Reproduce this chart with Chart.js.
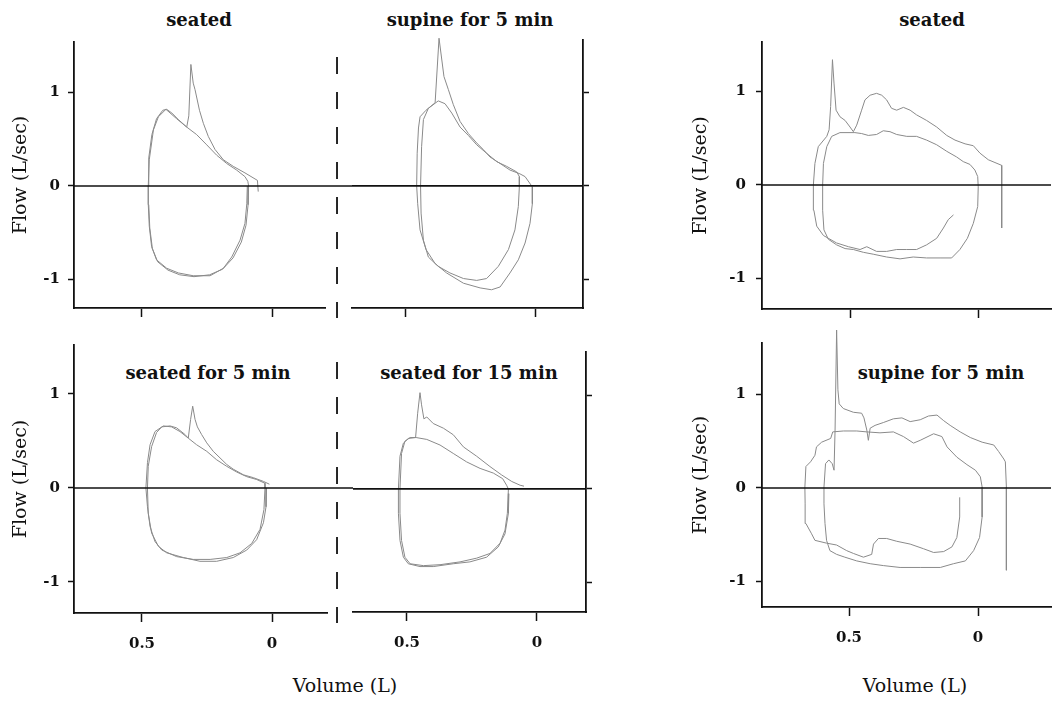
<!DOCTYPE html>
<html>
<head>
<meta charset="utf-8">
<script src="https://cdn.jsdelivr.net/npm/chart.js@4.4.1/dist/chart.umd.min.js"></script>
<style>
  body { margin: 0; width: 1052px; height: 701px; position: relative; overflow: hidden; background: #fff; font-family: "DejaVu Serif", serif; color: #111; }
  canvas { position: absolute; }
  .lbl { position: absolute; white-space: nowrap; line-height: 1; transform: translateX(-50%); }
  .ttl { font-weight: bold; font-size: 18px; }
  .vol { font-size: 19px; }
</style>
</head>
<body>
<div class="lbl ttl" style="left:199px; top:11px;">seated</div>
<div class="lbl ttl" style="left:470px; top:11px;">supine for 5 min</div>
<div class="lbl ttl" style="left:208px; top:364px;">seated for 5 min</div>
<div class="lbl ttl" style="left:469px; top:364px;">seated for 15 min</div>
<div class="lbl ttl" style="left:932px; top:11px;">seated</div>
<div class="lbl ttl" style="left:941px; top:364px;">supine for 5 min</div>
<div class="lbl vol" style="left:345px; top:676px;">Volume (L)</div>
<div class="lbl vol" style="left:915px; top:676px;">Volume (L)</div>
<script>
// ---------- axis ticks ----------
const xTicks = [0.5, 0];
const xTickLabels = ['0.5', '0'];
const yTicks = [-1, 0, 1];
const yTickLabels = ['-1', '0', '1'];

// ---------- loops, [volume L, flow L/s] ----------
// left block, top: seated
const seatedLoop1 = [[0.095,0.00],[0.097,-0.19],[0.104,-0.40],[0.123,-0.58],[0.155,-0.76],[0.187,-0.88],[0.238,-0.96],[0.303,-0.96],[0.360,-0.93],[0.405,-0.88],[0.444,-0.79],[0.463,-0.65],[0.472,-0.43],[0.476,-0.19],[0.476,0.00],[0.472,0.28],[0.456,0.60],[0.437,0.74],[0.408,0.82],[0.367,0.72],[0.328,0.63],[0.320,0.75],[0.312,1.30],[0.303,1.10],[0.296,1.03],[0.279,0.81],[0.264,0.67],[0.245,0.53],[0.219,0.39],[0.187,0.28],[0.149,0.21],[0.104,0.14],[0.056,0.06],[0.053,-0.06]];
const seatedLoop2 = [[0.476,0.00],[0.474,0.30],[0.462,0.55],[0.444,0.72],[0.420,0.81],[0.405,0.82],[0.385,0.78],[0.360,0.71],[0.328,0.63],[0.290,0.55],[0.251,0.44],[0.213,0.33],[0.174,0.24],[0.136,0.17],[0.104,0.10],[0.093,0.05],[0.090,0.00],[0.092,-0.20],[0.100,-0.42],[0.118,-0.60],[0.150,-0.77],[0.190,-0.89],[0.240,-0.95],[0.300,-0.97],[0.355,-0.95],[0.400,-0.90],[0.440,-0.81],[0.460,-0.67],[0.470,-0.45],[0.474,-0.20],[0.476,0.00]];
// left block, top: supine for 5 min
const supineLoop1 = [[0.459,0.00],[0.457,0.35],[0.452,0.62],[0.446,0.74],[0.423,0.81],[0.388,0.89],[0.373,1.58],[0.354,1.17],[0.337,1.03],[0.318,0.87],[0.292,0.69],[0.260,0.56],[0.228,0.46],[0.203,0.39],[0.177,0.31],[0.138,0.24],[0.100,0.17],[0.062,0.13],[0.042,0.10],[0.014,-0.01],[0.014,-0.19],[0.023,-0.40],[0.042,-0.61],[0.068,-0.79],[0.100,-0.93],[0.138,-1.08],[0.171,-1.11],[0.215,-1.09],[0.279,-1.04],[0.344,-0.93],[0.388,-0.83],[0.423,-0.68],[0.446,-0.47],[0.455,-0.19],[0.459,0.00]];
const supineLoop2 = [[0.444,0.00],[0.440,0.42],[0.433,0.71],[0.414,0.83],[0.376,0.91],[0.350,0.88],[0.324,0.78],[0.292,0.63],[0.260,0.54],[0.228,0.44],[0.190,0.35],[0.151,0.26],[0.113,0.21],[0.074,0.15],[0.064,0.10],[0.064,-0.01],[0.068,-0.22],[0.081,-0.47],[0.106,-0.68],[0.145,-0.86],[0.190,-0.99],[0.228,-1.01],[0.279,-0.99],[0.331,-0.93],[0.376,-0.86],[0.414,-0.76],[0.433,-0.58],[0.442,-0.29],[0.444,0.00]];
// left block, bottom: seated for 5 min
const seated5Loop1 = [[0.021,0.00],[0.023,-0.20],[0.033,-0.37],[0.059,-0.55],[0.097,-0.66],[0.149,-0.74],[0.213,-0.78],[0.277,-0.78],[0.341,-0.74],[0.405,-0.69],[0.437,-0.62],[0.463,-0.48],[0.476,-0.27],[0.479,0.00],[0.476,0.23],[0.463,0.44],[0.444,0.59],[0.424,0.65],[0.392,0.66],[0.367,0.64],[0.335,0.57],[0.322,0.53],[0.313,0.73],[0.305,0.87],[0.296,0.73],[0.287,0.65],[0.271,0.57],[0.251,0.48],[0.226,0.39],[0.200,0.32],[0.174,0.25],[0.149,0.20],[0.110,0.14],[0.072,0.11],[0.033,0.07],[0.010,0.04]];
const seated5Loop2 = [[0.485,0.00],[0.479,0.27],[0.469,0.46],[0.450,0.60],[0.418,0.66],[0.386,0.65],[0.354,0.60],[0.322,0.53],[0.290,0.46],[0.251,0.39],[0.213,0.30],[0.174,0.23],[0.136,0.17],[0.097,0.12],[0.059,0.09],[0.027,0.05],[0.027,0.00],[0.031,-0.23],[0.046,-0.44],[0.078,-0.59],[0.123,-0.69],[0.174,-0.74],[0.238,-0.76],[0.303,-0.76],[0.367,-0.73],[0.424,-0.66],[0.450,-0.57],[0.469,-0.41],[0.479,-0.20],[0.485,0.00]];
// left block, bottom: seated for 15 min
const seated15Loop1 = [[0.108,-0.05],[0.110,-0.26],[0.123,-0.48],[0.149,-0.62],[0.194,-0.73],[0.258,-0.78],[0.322,-0.80],[0.399,-0.83],[0.450,-0.83],[0.495,-0.80],[0.514,-0.73],[0.527,-0.55],[0.533,-0.26],[0.533,0.00],[0.527,0.35],[0.514,0.49],[0.495,0.54],[0.467,0.55],[0.459,0.81],[0.450,1.03],[0.444,0.90],[0.435,0.75],[0.424,0.77],[0.399,0.70],[0.360,0.65],[0.322,0.58],[0.283,0.45],[0.232,0.35],[0.181,0.24],[0.136,0.15],[0.097,0.08],[0.065,0.04],[0.050,0.03]];
const seated15Loop2 = [[0.527,0.00],[0.521,0.38],[0.508,0.51],[0.488,0.55],[0.465,0.55],[0.424,0.53],[0.373,0.47],[0.322,0.38],[0.271,0.29],[0.219,0.22],[0.168,0.17],[0.132,0.11],[0.117,0.04],[0.110,0.00],[0.114,-0.26],[0.123,-0.44],[0.142,-0.58],[0.181,-0.69],[0.232,-0.74],[0.296,-0.78],[0.373,-0.81],[0.437,-0.82],[0.488,-0.80],[0.508,-0.73],[0.521,-0.55],[0.527,-0.26],[0.527,0.00]];
// right block, top: seated
const rSeatedLoop1 = [[0.099,-0.32],[0.119,-0.37],[0.138,-0.46],[0.164,-0.57],[0.203,-0.64],[0.242,-0.69],[0.280,-0.69],[0.319,-0.69],[0.358,-0.71],[0.397,-0.71],[0.435,-0.66],[0.461,-0.69],[0.506,-0.66],[0.552,-0.62],[0.603,-0.54],[0.629,-0.44],[0.640,-0.27],[0.642,0.00],[0.636,0.23],[0.623,0.41],[0.590,0.52],[0.581,0.59],[0.575,0.84],[0.568,1.34],[0.562,1.09],[0.554,0.80],[0.539,0.73],[0.519,0.69],[0.500,0.62],[0.487,0.57],[0.474,0.64],[0.455,0.80],[0.442,0.91],[0.422,0.96],[0.397,0.98],[0.377,0.96],[0.358,0.91],[0.339,0.82],[0.319,0.80],[0.293,0.83],[0.267,0.80],[0.242,0.75],[0.203,0.69],[0.164,0.62],[0.125,0.53],[0.093,0.48],[0.054,0.44],[0.022,0.42],[-0.004,0.34],[-0.036,0.27],[-0.062,0.24],[-0.088,0.21],[-0.088,0.00],[-0.088,-0.46]];
const rSeatedLoop2 = [[0.606,0.00],[0.603,0.23],[0.590,0.41],[0.571,0.52],[0.539,0.56],[0.500,0.56],[0.481,0.56],[0.455,0.55],[0.429,0.53],[0.397,0.54],[0.371,0.58],[0.345,0.57],[0.319,0.54],[0.280,0.52],[0.242,0.52],[0.203,0.48],[0.164,0.43],[0.125,0.36],[0.087,0.30],[0.061,0.25],[0.035,0.22],[0.016,0.16],[0.005,0.09],[0.003,-0.02],[0.005,-0.23],[0.022,-0.41],[0.045,-0.57],[0.074,-0.69],[0.106,-0.78],[0.151,-0.78],[0.203,-0.78],[0.255,-0.77],[0.306,-0.79],[0.358,-0.77],[0.410,-0.74],[0.448,-0.72],[0.487,-0.69],[0.519,-0.68],[0.552,-0.64],[0.584,-0.58],[0.601,-0.48],[0.606,-0.27],[0.606,0.00]];
// right block, bottom: supine for 5 min
const rSupineLoop1 = [[0.412,-0.71],[0.444,-0.74],[0.483,-0.70],[0.509,-0.67],[0.548,-0.61],[0.587,-0.59],[0.632,-0.56],[0.645,-0.49],[0.667,-0.38],[0.670,-0.17],[0.671,0.01],[0.667,0.23],[0.649,0.28],[0.632,0.35],[0.626,0.44],[0.606,0.49],[0.571,0.53],[0.563,0.60],[0.522,0.61],[0.470,0.61],[0.431,0.60],[0.380,0.59],[0.328,0.60],[0.289,0.55],[0.250,0.48],[0.224,0.51],[0.172,0.58],[0.140,0.55],[0.120,0.44],[0.082,0.33],[0.043,0.25],[0.010,0.19],[-0.009,0.12],[-0.016,0.01],[-0.016,-0.31],[-0.006,-0.53],[0.017,-0.67],[0.049,-0.78],[0.095,-0.81],[0.146,-0.85],[0.224,-0.85],[0.302,-0.85],[0.367,-0.83],[0.418,-0.81],[0.470,-0.78],[0.516,-0.74],[0.548,-0.71],[0.574,-0.67],[0.587,-0.56],[0.593,-0.38],[0.597,-0.17],[0.597,0.01],[0.591,0.26],[0.578,0.30],[0.565,0.26],[0.558,0.19]];
const rSupineSpike = [[0.558,0.19],[0.554,0.62],[0.548,1.69],[0.543,1.05],[0.538,0.90],[0.522,0.85],[0.483,0.81],[0.451,0.80],[0.442,0.75],[0.431,0.62],[0.425,0.51],[0.418,0.64],[0.399,0.67],[0.367,0.70],[0.328,0.74],[0.295,0.75],[0.263,0.71],[0.224,0.73],[0.192,0.77],[0.159,0.78],[0.133,0.72],[0.108,0.67],[0.069,0.60],[0.030,0.54],[-0.016,0.49],[-0.061,0.46],[-0.080,0.39],[-0.100,0.31],[-0.106,0.28],[-0.110,0.01],[-0.110,-0.88]];
const rSupineLoop3 = [[0.412,-0.71],[0.405,-0.60],[0.386,-0.54],[0.354,-0.54],[0.315,-0.57],[0.263,-0.60],[0.211,-0.65],[0.172,-0.69],[0.133,-0.68],[0.101,-0.63],[0.082,-0.53],[0.071,-0.31],[0.071,-0.10]];

// ---------- panels ----------
const INK = '#111';
const TRACE = '#8a8a8a';
const tickFont = { family: 'DejaVu Serif', size: 15, weight: 'bold' };

const panels = [
  { area: {l:74, t:42, r:325, b:308}, x: [0.7615, -0.2038], y: [1.540, -1.305], side: 'left', yW: 74, extra: 35,
    xH: 20, xLabels: false, yLabels: true, yPad: 8, zero: [0.7615, -0.3077], dash: {x: -0.25, y1: 1.380, y2: -1.412},
    series: [seatedLoop1, seatedLoop2] },
  { area: {l:352, t:40, r:583, b:308}, x: [0.7077, -0.1808], y: [1.561, -1.305], side: 'right', yW: 20, extra: 10,
    xH: 20, xLabels: false, yLabels: false, zero: [0.7077, -0.1808],
    series: [supineLoop1, supineLoop2] },
  { area: {l:74, t:345, r:327, b:613}, x: [0.7615, -0.2115], y: [1.521, -1.330], side: 'left', yW: 74, extra: 35,
    xH: 50, xLabels: true, yLabels: true, yPad: 8, zero: [0.7615, -0.3115], dash: {x: -0.25, y1: 1.340, y2: -1.436},
    series: [seated5Loop1, seated5Loop2] },
  { area: {l:353, t:352, r:586, b:612}, x: [0.7077, -0.1885], y: [1.465, -1.316], side: 'right', yW: 20, extra: 10,
    xH: 50, xLabels: true, yLabels: false, zero: [0.7077, -0.1885],
    series: [seated15Loop1, seated15Loop2] },
  { area: {l:762, t:42, r:1051, b:309}, x: [0.8411, -0.2791], y: [1.529, -1.326], side: 'left', yW: 82, extra: 1,
    xH: 20, xLabels: false, yLabels: true, yPad: 10, zero: [0.8411, -0.2791],
    series: [rSeatedLoop1, rSeatedLoop2] },
  { area: {l:762, t:343, r:1051, b:607}, x: [0.8372, -0.2829], y: [1.551, -1.273], side: 'left', yW: 82, extra: 1,
    xH: 50, xLabels: true, yLabels: true, yPad: 10, zero: [0.8372, -0.2829],
    series: [rSupineLoop1, rSupineSpike, rSupineLoop3] }
];

const PAD_TOP = 20;

panels.forEach(p => {
  const canvas = document.createElement('canvas');
  const left = p.side === 'left' ? p.area.l - p.yW : p.area.l - p.extra;
  const right = p.side === 'left' ? p.area.r + p.extra : p.area.r + p.yW;
  const top = p.area.t - PAD_TOP;
  const bottom = p.area.b + p.xH;
  canvas.width = right - left;
  canvas.height = bottom - top;
  canvas.style.left = left + 'px';
  canvas.style.top = top + 'px';
  document.body.appendChild(canvas);

  const datasets = [];
  datasets.push({ data: [{x: p.zero[0], y: 0}, {x: p.zero[1], y: 0}], borderColor: INK, borderWidth: 1.7 });
  if (p.dash) {
    datasets.push({ data: [{x: p.dash.x, y: p.dash.y1}, {x: p.dash.x, y: p.dash.y2}],
      borderColor: INK, borderWidth: 1.8, borderDash: [17, 18] });
  }
  p.series.forEach(s => {
    datasets.push({ data: s.map(([x, y]) => ({x, y})), borderColor: TRACE, borderWidth: 1 });
  });
  datasets.forEach(d => { d.showLine = true; d.pointRadius = 0; d.clip = false; d.tension = 0; });

  new Chart(canvas, {
    type: 'scatter',
    data: { datasets },
    options: {
      responsive: false,
      animation: false,
      events: [],
      layout: { padding: { top: PAD_TOP, bottom: 0,
        left: p.side === 'left' ? 0 : p.extra, right: p.side === 'left' ? p.extra : 0 } },
      plugins: { legend: { display: false }, tooltip: { enabled: false } },
      scales: {
        x: {
          type: 'linear', reverse: true, min: p.x[1], max: p.x[0],
          afterBuildTicks: s => { s.ticks = xTicks.map(v => ({value: v})); },
          afterFit: s => { s.height = p.xH; },
          border: { display: true, color: INK, width: 1.8 },
          grid: { drawOnChartArea: false, drawTicks: true, tickLength: 9, tickWidth: 1.5, tickColor: INK },
          ticks: { display: p.xLabels, padding: 13, color: INK, font: tickFont, maxRotation: 0,
            callback: v => xTickLabels[xTicks.indexOf(v)] }
        },
        y: {
          type: 'linear', position: p.side, min: p.y[1], max: p.y[0],
          afterBuildTicks: s => { s.ticks = yTicks.map(v => ({value: v})); },
          afterFit: s => { s.width = p.yW; },
          border: { display: true, color: INK, width: 1.8 },
          grid: { drawOnChartArea: false, drawTicks: true, tickLength: 6, tickWidth: 1.5, tickColor: INK },
          ticks: { display: p.yLabels, padding: p.yPad || 8, color: INK, font: tickFont,
            callback: v => yTickLabels[yTicks.indexOf(v)] },
          title: { display: p.yLabels, text: 'Flow (L/sec)', color: INK,
            font: { family: 'DejaVu Serif', size: 19 }, padding: { top: 10, bottom: 0 } }
        }
      }
    }
  });
});
</script>
</body>
</html>
